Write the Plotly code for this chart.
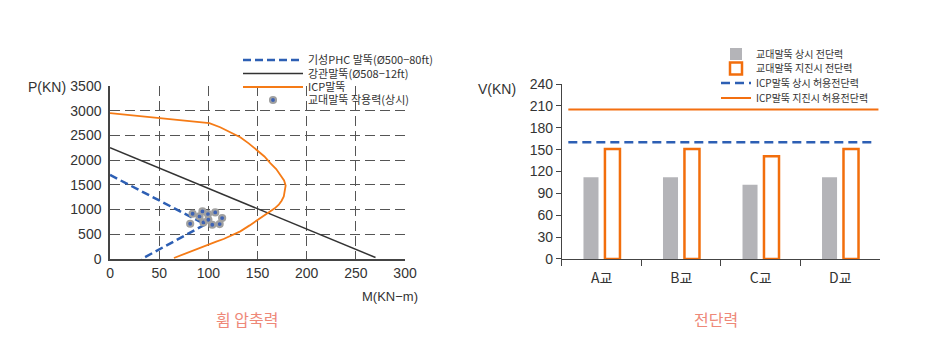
import plotly.graph_objects as go

# ---------------- Left chart data: 휨 압축력 ----------------
phc_m = [0, 97, 32]
phc_p = [1700, 700, 0]

steel_m = [0, 270]
steel_p = [2250, 30]

icp_m = [0, 101, 112, 122, 132.5, 141, 149.5, 157, 163, 169, 173, 177, 178.6, 178, 176.7,
         174.5, 171.6, 167.5, 163, 157, 151, 142, 132.5, 124, 115.5, 108, 101, 93, 85, 75, 65]
icp_p = [2950, 2750, 2665, 2570, 2463, 2340, 2208, 2075, 1938, 1820, 1703, 1590, 1487, 1375,
         1265, 1180, 1097, 1025, 962, 880, 794, 680, 559, 480, 404, 350, 296, 232, 168, 95, 20]

pier_m = [81.5, 84, 91, 94, 95, 99.6, 100, 104, 107, 111.5, 114]
pier_p = [713, 915, 861, 962, 740, 908, 794, 693, 942, 707, 828]

m_ticks = [0, 50, 100, 150, 200, 250, 300]
p_ticks = [0, 500, 1000, 1500, 2000, 2500, 3000, 3500]

# ---------------- Right chart data: 전단력 ----------------
bridges = ["A교", "B교", "C교", "D교"]
shear_normal = [112, 112, 102, 112]
shear_quake = [151, 151, 141, 151]
icp_allow_normal = 160
icp_allow_quake = 205
v_ticks = [0, 30, 60, 90, 120, 150, 180, 210, 240]

FONT = "Liberation Sans, Arial, Noto Sans CJK KR, sans-serif"
KFONT = "Noto Sans CJK KR, Liberation Sans, sans-serif"
AXC = "#444444"
TXT = "#333333"
BLUE = "#2d5fb4"
ORANGE = "#f57b16"
GRID = "#555555"

fig = go.Figure()

fig.add_trace(go.Scatter(x=phc_m, y=phc_p, mode="lines", name="기성PHC 말뚝(Ø500−80ft)",
                         line=dict(color=BLUE, width=2.5, dash="8px,4px"),
                         xaxis="x", yaxis="y", legend="legend"))
fig.add_trace(go.Scatter(x=steel_m, y=steel_p, mode="lines", name="강관말뚝(Ø508−12ft)",
                         line=dict(color="#333333", width=1.5),
                         xaxis="x", yaxis="y", legend="legend2"))
fig.add_trace(go.Scatter(x=icp_m, y=icp_p, mode="lines", name="ICP말뚝",
                         line=dict(color=ORANGE, width=1.8),
                         xaxis="x", yaxis="y", legend="legend3"))
fig.add_trace(go.Scatter(x=pier_m, y=pier_p, mode="markers", name="교대말뚝 작용력(상시)",
                         marker=dict(color="#3d62b5", size=6, line=dict(color="#a0a0a0", width=2.2)),
                         xaxis="x", yaxis="y", legend="legend4"))

fig.add_trace(go.Bar(x=bridges, y=shear_normal, name="교대말뚝 상시 전단력",
                     marker=dict(color="#b4b4b8", line=dict(width=0)),
                     xaxis="x2", yaxis="y2", legend="legend5"))
fig.add_trace(go.Bar(x=bridges, y=shear_quake, name="교대말뚝 지진시 전단력",
                     marker=dict(color="white", line=dict(color="#f26e0c", width=2.5)),
                     xaxis="x2", yaxis="y2", legend="legend6"))

shapes = [
    dict(type="line", xref="x2 domain", yref="y2", x0=0.02, x1=0.985,
         y0=icp_allow_normal, y1=icp_allow_normal,
         line=dict(color=BLUE, width=2.5, dash="9px,5px"),
         showlegend=True, name="ICP말뚝 상시 허용전단력", legend="legend7"),
    dict(type="line", xref="x2 domain", yref="y2", x0=0.02, x1=0.995,
         y0=icp_allow_quake, y1=icp_allow_quake,
         line=dict(color="#f36f10", width=2),
         showlegend=True, name="ICP말뚝 지진시 허용전단력", legend="legend8"),
]


def leg(xpx, ypx, iw, fs):
    return dict(x=xpx / 938, y=1 - ypx / 356, xanchor="left", yanchor="middle",
                font=dict(family=KFONT, size=fs, color=TXT), tracegroupgap=0,
                bgcolor="rgba(0,0,0,0)", itemwidth=iw, visible=True)


def note(text, xpx, ypx, size, color=TXT, family=FONT):
    return dict(text=text, x=xpx / 938, y=1 - ypx / 356, xref="paper", yref="paper",
                xanchor="center", yanchor="middle", showarrow=False,
                font=dict(family=family, size=size, color=color))


fig.update_layout(
    width=938, height=356,
    showlegend=True,
    margin=dict(l=0, r=0, t=0, b=0, autoexpand=False),
    paper_bgcolor="white", plot_bgcolor="white",
    font=dict(family=FONT, size=14, color=TXT),
    barmode="group", bargap=0.46, bargroupgap=0.3,
    shapes=shapes,
    xaxis=dict(domain=[0.1173, 0.4318], range=[0, 300], tickvals=m_ticks,
               showgrid=False, zeroline=False, showline=True, linecolor=AXC, linewidth=1.5,
               ticks="", ticklabelstandoff=0, automargin=False,
               minor=dict(tickvals=m_ticks[1:], showgrid=True, gridcolor=GRID,
                          griddash="10px,5px", gridwidth=1),
               anchor="y", fixedrange=True),
    yaxis=dict(domain=[0.2725, 0.7584], range=[0, 3500], tickvals=p_ticks,
               showgrid=False, zeroline=False, showline=True, linecolor=AXC, linewidth=1.5,
               ticks="", ticklabelstandoff=4, automargin=False,
               minor=dict(tickvals=p_ticks[1:-1], showgrid=True, gridcolor=GRID,
                          griddash="10px,5px", gridwidth=1),
               anchor="x", fixedrange=True),
    xaxis2=dict(domain=[0.5991, 0.9382], range=[-0.5, 3.5], type="category",
                showgrid=False, zeroline=False, showline=True, linecolor=AXC, linewidth=1.2,
                ticks="outside", tickson="boundaries", ticklen=6, tickcolor=AXC,
                tickfont=dict(family=KFONT, size=14), ticklabelstandoff=6, automargin=False,
                anchor="y2", fixedrange=True),
    yaxis2=dict(domain=[0.2725, 0.764], range=[0, 240], tickvals=v_ticks,
                showgrid=False, zeroline=False, showline=True, linecolor=AXC, linewidth=1.2,
                ticks="outside", ticklen=5, tickcolor=AXC, automargin=False,
                anchor="x2", fixedrange=True),
    legend=leg(238, 60, 60, 11),
    legend2=leg(238, 73.5, 60, 11),
    legend3=leg(238, 87, 60, 11),
    legend4=leg(238, 100, 60, 11),
    legend5=leg(716, 54, 30, 10),
    legend6=leg(716, 68.5, 30, 10),
    legend7=leg(716, 83, 30, 10),
    legend8=leg(716, 98, 30, 10),
    annotations=[
        note("P(KN)", 47, 87, 14),
        note("M(KN−m)", 390, 296, 13),
        note("V(KN)", 497, 89, 14),
        note("휨 압축력", 247, 319, 16, "#ee8878", KFONT),
        note("전단력", 716, 319, 16, "#ee8878", KFONT),
    ],
)

fig.write_html("out.html", config={"displayModeBar": False},
               post_script="document.body.style.margin='0';")
